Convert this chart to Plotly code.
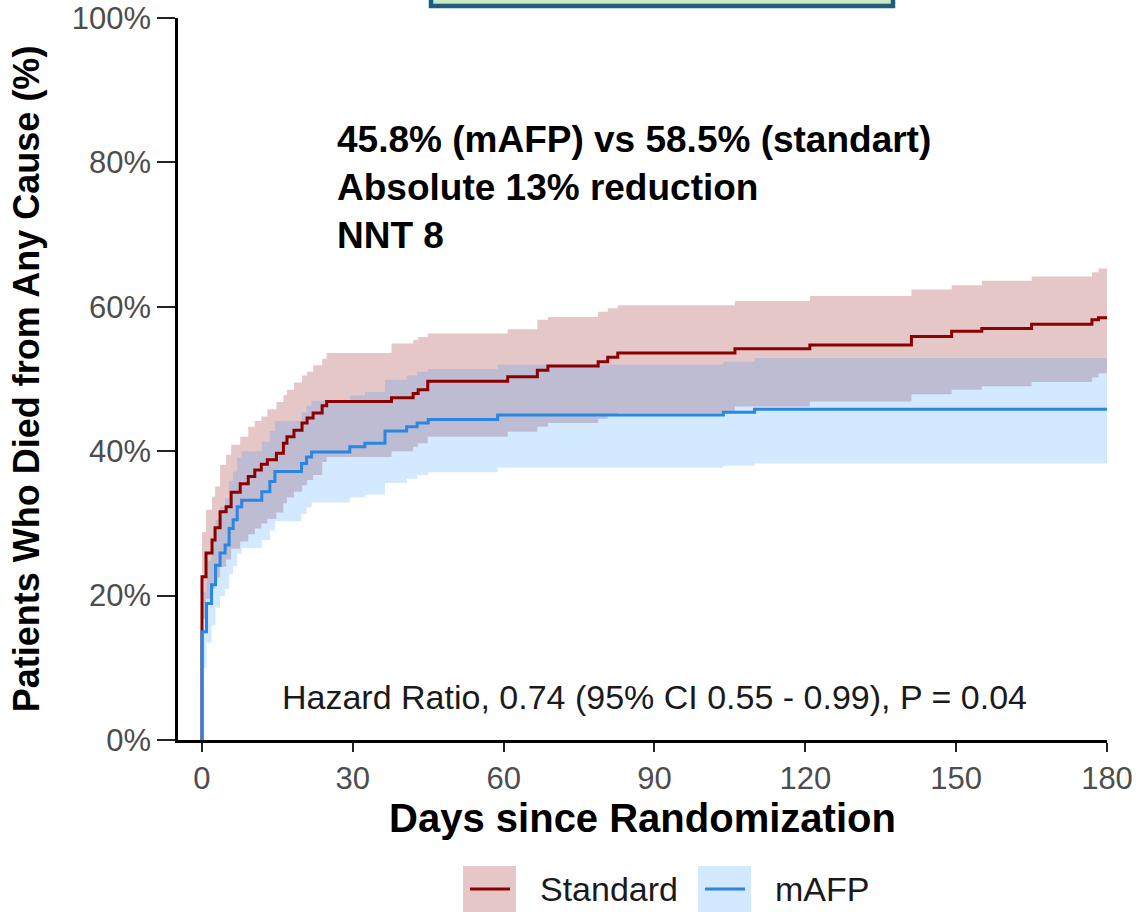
import plotly.graph_objects as go

# ---------------- data ----------------
days_std = [0, 0, 0.8, 2.0, 2.6, 3.6, 4.8, 5.8, 7.6, 9.2,
            10.5, 11.8, 13.0, 14.8, 16.2, 16.9, 18.3, 19.9, 20.9, 22.1,
            23.9, 24.8, 37.7, 42.0, 43.0, 44.9, 60.8, 66.7, 68.8, 78.8,
            80.7, 82.7, 106.0, 120.9, 141.1, 149.1, 155.1, 165.0, 177.0, 178.3,
            180]
pct_std = [0, 22.6, 25.9, 27.7, 29.4, 31.6, 32.3, 34.3, 35.5, 36.5,
           37.4, 38.2, 38.8, 39.7, 41.1, 42.0, 42.9, 43.9, 44.6, 45.3,
           46.3, 46.9, 47.4, 48.0, 48.5, 49.7, 50.3, 51.2, 51.8, 52.4,
           53.0, 53.6, 54.2, 54.7, 55.9, 56.6, 57.0, 57.6, 58.2, 58.5,
           58.5]
upper_std = [0, 28.8, 31.9, 33.7, 35.1, 38.1, 39.5, 40.9, 42.0, 43.4,
             44.2, 44.8, 45.8, 46.8, 47.8, 48.5, 49.5, 50.5, 51.0, 51.9,
             52.8, 53.6, 54.9, 55.4, 55.8, 56.3, 56.9, 58.2, 58.6, 59.3,
             59.8, 60.2, 60.8, 61.5, 62.4, 63.0, 63.6, 64.2, 64.8, 65.3,
             65.3]
lower_std = [0, 16.8, 19.5, 21.0, 22.5, 24.0, 25.0, 26.5, 27.5, 28.5,
             29.3, 30.0, 30.6, 31.5, 32.8, 33.6, 34.4, 35.3, 36.0, 36.7,
             38.5, 39.2, 40.0, 40.6, 41.1, 42.0, 42.7, 43.4, 43.9, 44.5,
             44.9, 45.3, 46.2, 46.9, 47.9, 48.5, 49.0, 49.6, 50.2, 50.8,
             50.8]

days_mafp = [0, 0, 0.9, 1.9, 2.7, 3.6, 4.6, 5.4, 6.2, 7.0,
             7.9, 11.9, 13.5, 14.5, 19.8, 20.8, 21.8, 29.4, 32.4, 36.4,
             40.7, 42.8, 45.0, 58.8, 103.7, 109.9, 180]
pct_mafp = [0, 15.0, 18.9, 21.5, 24.2, 25.9, 27.0, 29.3, 30.5, 32.3,
            33.2, 34.4, 35.8, 37.2, 38.3, 39.2, 39.9, 40.6, 41.1, 42.8,
            43.4, 43.9, 44.4, 45.0, 45.4, 45.8, 45.8]
upper_mafp = [0, 20.5, 24.8, 27.6, 30.5, 32.3, 33.5, 35.9, 37.2, 39.1,
              40.0, 41.3, 42.8, 44.2, 45.4, 46.3, 47.0, 47.7, 48.2, 49.9,
              50.5, 51.0, 51.4, 52.0, 52.4, 52.9, 52.9]
lower_mafp = [0, 10.0, 13.5, 15.9, 18.3, 19.9, 20.9, 23.0, 24.1, 25.8,
              26.6, 27.7, 29.0, 30.3, 31.3, 32.2, 32.9, 33.6, 34.0, 35.6,
              36.2, 36.7, 37.1, 37.7, 38.0, 38.3, 38.3]

x_ticks = [0, 30, 60, 90, 120, 150, 180]
y_ticks = [0, 20, 40, 60, 80, 100]
y_ticktext = ["0%", "20%", "40%", "60%", "80%", "100%"]

series_names = ["Standard", "mAFP"]
annotation_lines = ["45.8% (mAFP) vs 58.5% (standart)", "Absolute 13% reduction", "NNT 8"]
hr_text = "Hazard Ratio, 0.74 (95% CI 0.55 - 0.99), P = 0.04"

# ---------------- styles ----------------
RED = "#8B0000"
RED_FILL = "rgba(139,0,0,0.22)"
BLUE = "#2A86E0"
BLUE_FILL = "rgba(30,144,255,0.20)"
FONT = "Liberation Sans, Arial, sans-serif"

fig = go.Figure()

def ribbon(days, lo, hi, fill):
    fig.add_trace(go.Scatter(x=days, y=lo, mode="lines", line=dict(width=0, shape="hv"),
                             showlegend=False, hoverinfo="skip"))
    fig.add_trace(go.Scatter(x=days, y=hi, mode="lines", line=dict(width=0, shape="hv"),
                             fill="tonexty", fillcolor=fill, showlegend=False, hoverinfo="skip"))

ribbon(days_std, lower_std, upper_std, RED_FILL)
ribbon(days_mafp, lower_mafp, upper_mafp, BLUE_FILL)

fig.add_trace(go.Scatter(x=days_std, y=pct_std, mode="lines", name=series_names[0],
                         line=dict(color=RED, width=3, shape="hv"), showlegend=False))
fig.add_trace(go.Scatter(x=days_mafp, y=pct_mafp, mode="lines", name=series_names[1],
                         line=dict(color=BLUE, width=3, shape="hv"), showlegend=False))

# plot area in pixels: x 178..1107, y 18..740
L, R, T, B = 178, 1107, 18, 740
W, H = R - L, B - T
def px(xp):
    return (xp - L) / W
def py(yp):
    return (B - yp) / H

shapes = []
# top box (cut off by the page edge)
shapes.append(dict(type="rect", xref="paper", yref="paper", x0=px(431), x1=px(893),
                   y0=py(6), y1=py(-40), line=dict(color="#1D5E7E", width=4.5),
                   fillcolor="#C9E7C3", layer="above"))
# legend keys
legend_keys = [(463, 516, RED_FILL, RED), (698, 751, BLUE_FILL, BLUE)]
for (x0, x1, fc, lc) in legend_keys:
    shapes.append(dict(type="rect", xref="paper", yref="paper", x0=px(x0), x1=px(x1),
                       y0=py(914), y1=py(866), line=dict(width=0), fillcolor=fc))
    shapes.append(dict(type="line", xref="paper", yref="paper", x0=px(x0 + 7), x1=px(x1 - 6),
                       y0=py(889), y1=py(889), line=dict(color=lc, width=3)))

annotations = [
    dict(xref="paper", yref="paper", x=px(538), y=py(889), text=series_names[0],
         showarrow=False, xanchor="left", yanchor="middle",
         font=dict(family=FONT, size=34, color="#1a1a1a")),
    dict(xref="paper", yref="paper", x=px(773), y=py(889), text=series_names[1],
         showarrow=False, xanchor="left", yanchor="middle",
         font=dict(family=FONT, size=34, color="#1a1a1a")),
    dict(xref="paper", yref="paper", x=px(335), y=py(117), text="<br>".join(annotation_lines),
         showarrow=False, xanchor="left", yanchor="top", align="left",
         font=dict(family=FONT, size=37, color="black", weight="bold")),
    dict(xref="paper", yref="paper", x=px(654), y=py(697), text=hr_text,
         showarrow=False, xanchor="center", yanchor="middle",
         font=dict(family=FONT, size=34, color="#1a1a1a")),
]

fig.update_layout(
    width=1140, height=912,
    margin=dict(l=L, r=1140 - R, t=T, b=912 - B, autoexpand=False),
    paper_bgcolor="white", plot_bgcolor="white",
    showlegend=False,
    shapes=shapes, annotations=annotations,
    font=dict(family=FONT),
)
fig.update_xaxes(range=[-4.77, 180], tickvals=x_ticks, showgrid=False, zeroline=False,
                 automargin=False,
                 showline=True, linecolor="black", linewidth=2.5,
                 ticks="outside", ticklen=9, tickwidth=2, tickcolor="#222",
                 tickfont=dict(family=FONT, size=31, color="#4D4D4D"),
                 title=dict(text="Days since Randomization", standoff=0,
                            font=dict(family=FONT, size=40, color="black", weight="bold")))
fig.update_yaxes(range=[0, 100], tickvals=y_ticks, ticktext=y_ticktext, showgrid=False,
                 automargin=False,
                 zeroline=False, showline=True, linecolor="black", linewidth=2.5,
                 ticks="outside", ticklen=18, tickwidth=2, tickcolor="#222",
                 tickfont=dict(family=FONT, size=31, color="#4D4D4D"),
                 title=dict(text="Patients Who Died from Any Cause (%)", standoff=22,
                            font=dict(family=FONT, size=36, color="black", weight="bold")))

fig.write_html("out.html", config={"displayModeBar": False},
               post_script="document.body.style.margin='0';")
